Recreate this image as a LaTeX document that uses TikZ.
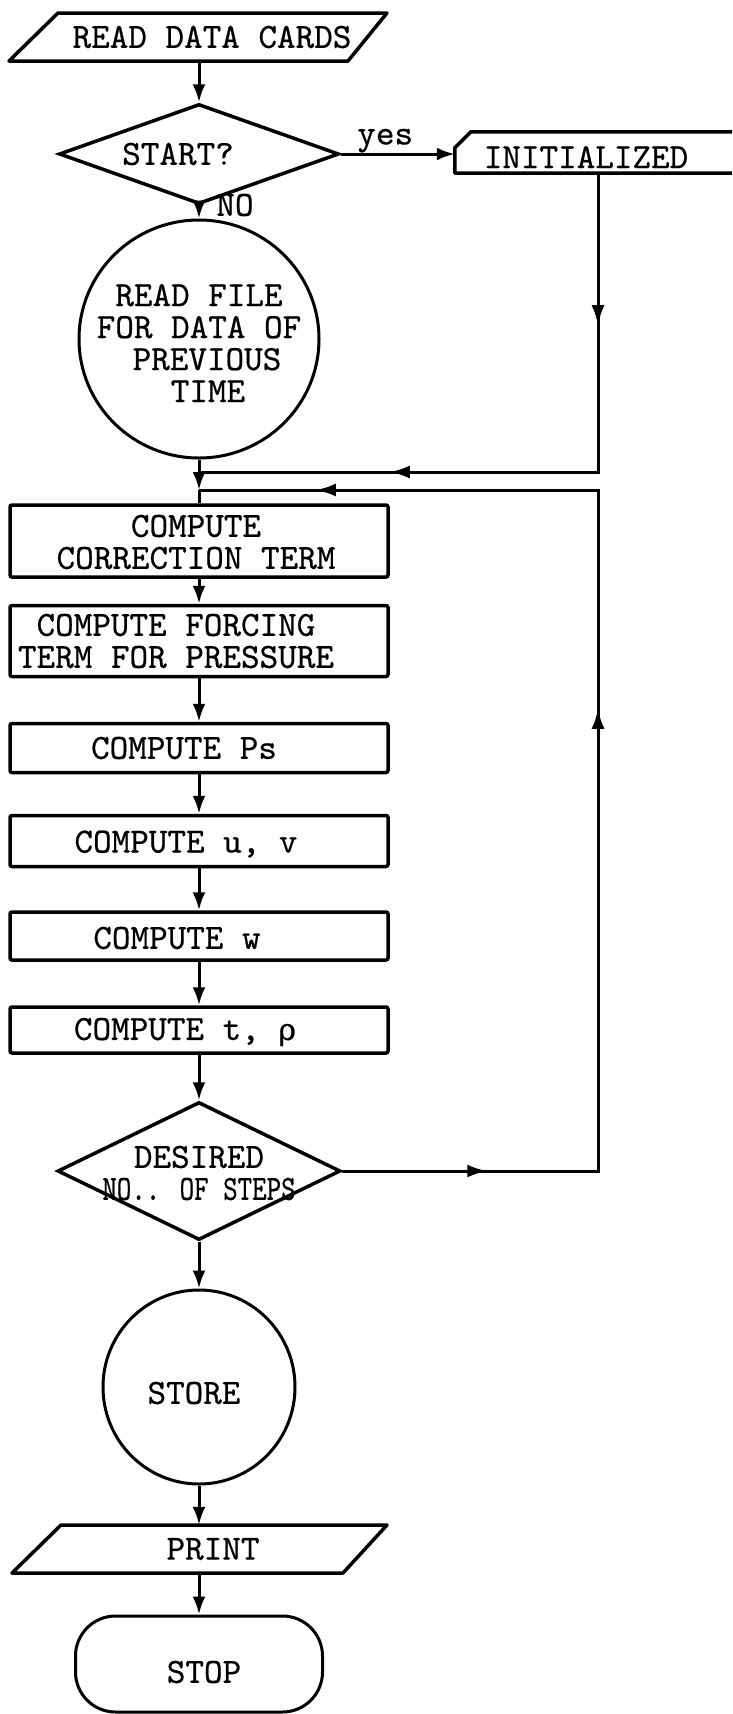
\documentclass[tikz,border=0pt]{standalone}
\usepackage{graphicx}
\usepackage{fontspec}
\newfontfamily\grkfont[FakeBold=0.6]{DejaVu Serif}
\newfontfamily\twfont[FakeBold=0.6]{lmmono10-regular.otf}
\usetikzlibrary{shapes.geometric,arrows.meta,decorations.markings}
\newcommand\flfont{\fontsize{35.4}{32}\selectfont\twfont}
\begin{document}
\begin{tikzpicture}[x=1pt,y=-1pt,
  conn/.style={line width=3pt,-{Latex[length=18pt,width=13pt]}},
  plain/.style={line width=3pt},
  midarr/.style={postaction={decorate,decoration={markings,mark=at position #1 with {\arrow{Latex[length=20pt,width=13pt]}}}}},
  txt/.style={inner sep=0pt,align=center,font=\flfont},
  procbox/.style={draw,line width=3.5pt,rounded corners=2pt,minimum width=378pt,inner sep=0pt},
  oval/.style={draw,ellipse,line width=3pt,inner sep=0pt},
  decision/.style={draw,diamond,line width=3.5pt,inner sep=0pt},
  outline/.style={line width=3.5pt,line join=round},
]
\useasboundingbox (0,0) rectangle (732,1714);

% input card
\node[txt,minimum height=48pt] (read) at (212,37) {READ DATA CARDS};
\draw[outline] (58,13) -- (387,13) -- (348,61) -- (9,61) -- cycle;

% start decision
\node[decision,minimum width=280pt,minimum height=100pt,
  label={[txt,xshift=-21pt]center:{START?}}] (start) at (199,154) {};
\node[txt] (no) at (235,205) {NO};

% initialized
\node[minimum width=277pt,minimum height=41pt,inner sep=0pt] (init) at (593.5,152.5) {};
\node[txt] (inittxt) at (586,157) {INITIALIZED};
\draw[outline] (init.south east) -- (init.south west) -- ([yshift=-16pt]init.north west)
  -- ([xshift=16pt]init.north west) -- (init.north east);

% read file
\node[oval,minimum width=240pt,minimum height=238pt,
  label={[txt,yshift=-4pt]center:{READ FILE\\FOR DATA OF\\\hspace*{16pt}PREVIOUS\\\hspace*{18pt}TIME}}]
  (readfile) at (199,339) {};

% process boxes
\node[procbox,minimum height=72pt,label={[txt,xshift=-3pt,yshift=-1pt]center:{COMPUTE\\CORRECTION TERM}}] (b1) at (199,541) {};
\node[procbox,minimum height=71pt,label={[txt,xshift=-23pt]center:{COMPUTE FORCING\\TERM FOR PRESSURE}}] (b2) at (199,641) {};
\node[procbox,minimum height=49pt,label={[txt,xshift=-15pt]center:{COMPUTE Ps}}] (b3) at (199,748) {};
\node[procbox,minimum height=51pt,label={[txt,xshift=-13pt,yshift=-3pt]center:{COMPUTE u, v}}] (b4) at (199,841) {};
\node[procbox,minimum height=48pt,label={[txt,xshift=-22pt,yshift=-2pt]center:{COMPUTE w}}] (b5) at (199,936) {};
\node[procbox,minimum height=46pt,label={[txt,xshift=-14pt,yshift=-2pt]center:{COMPUTE t, {\grkfont\fontsize{30}{32}\selectfont ρ}}}] (b6) at (199,1030) {};

% desired decision
\node[decision,minimum width=283pt,minimum height=138pt,
  label={[txt,yshift=-2pt]center:{DESIRED\\\scalebox{0.78}[1]{NO.. OF STEPS}}}] (desired) at (199,1171) {};

% store
\node[oval,minimum width=192pt,minimum height=194pt,
  label={[txt,xshift=-5pt,yshift=-6pt]center:{STORE}}] (store) at (199,1387) {};

% print
\node[txt,minimum height=48pt] (print) at (213,1549) {PRINT};
\draw[outline] (61,1525) -- (387,1525) -- (343,1573) -- (12,1573) -- cycle;

% stop
\node[draw,line width=3pt,rounded corners=40pt,minimum width=247pt,minimum height=96pt,inner sep=0pt,
  label={[txt,xshift=5pt,yshift=-8pt]center:{STOP}}] (stop) at (199,1664) {};

% loop coordinates
\coordinate (c1) at (598,472);
\coordinate (c2) at (598,490);
\coordinate (c3) at (598,1171);

% connectors
\draw[conn] (read.south -| start.north) -- (start.north);
\draw[conn] (start.east) -- node[txt,above=0pt,pos=0.39] {yes} (init.west |- start.east);
\draw[conn] (start.south) -- (readfile.north);
\draw[plain,midarr=152pt,midarr=507pt] (init.south -| c1) -- (c1) -- (readfile.south |- c1);
\draw[conn] (readfile.south) -- (readfile.south |- c2);
\draw[plain] (readfile.south |- c2) -- (b1.north);
\draw[conn] (b1.south) -- (b2.north);
\draw[conn] (b2.south) -- (b3.north);
\draw[conn] (b3.south) -- (b4.north);
\draw[conn] (b4.south) -- (b5.north);
\draw[conn] (b5.south) -- (b6.north);
\draw[conn] (b6.south) -- (desired.north);
\draw[plain,midarr=145pt,midarr=718pt,midarr=1219pt] (desired.east) -- (c3) -- (c2) -- (readfile.south |- c2);
\draw[conn] (desired.south) -- (store.north);
\draw[conn] (store.south) -- (store.south |- print.north);
\draw[conn] (store.south |- print.south) -- (stop.north);
\end{tikzpicture}
\end{document}
